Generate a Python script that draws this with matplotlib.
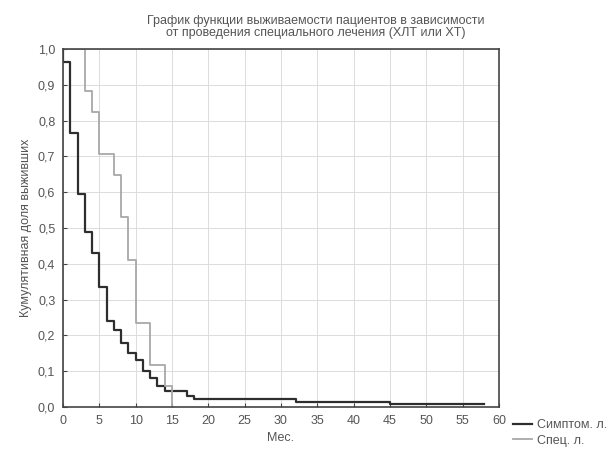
import matplotlib.pyplot as plt
from matplotlib.ticker import FuncFormatter

# Симптоматическое лечение (время, доля выживших после события)
t_sympt = [0, 0, 1, 2, 3, 4, 5, 6, 7, 8, 9, 10, 11, 12, 13, 14, 17, 18, 32, 45, 58]
s_sympt = [1.0, 0.963, 0.766, 0.596, 0.49, 0.43, 0.335, 0.24, 0.215, 0.18, 0.15,
           0.13, 0.10, 0.08, 0.06, 0.045, 0.03, 0.021, 0.013, 0.007, 0.007]

# Специальное лечение
t_spec = [0, 3, 4, 5, 7, 8, 9, 10, 12, 14, 15]
s_spec = [1.0, 0.882, 0.823, 0.706, 0.647, 0.53, 0.41, 0.235, 0.118, 0.059, 0.0]

labels = ['Симптом. л.', 'Спец. л.']
title = ('График функции выживаемости пациентов в зависимости\n'
         'от проведения специального лечения (ХЛТ или ХТ)')

plt.rcParams['font.family'] = ['Liberation Sans', 'DejaVu Sans']

fig = plt.figure(figsize=(6.16, 4.5), dpi=100)
ax = fig.add_axes([63 / 616, 1 - 407 / 450, 436 / 616, 358 / 450])

ax.step(t_sympt, s_sympt, where='post', color='#2e2e2e', lw=1.6, label=labels[0])
ax.step(t_spec, s_spec, where='post', color='#a8a8a8', lw=1.3, label=labels[1])

ax.set_xlim(0, 60)
ax.set_ylim(0, 1.0)
ax.set_xticks(range(0, 61, 5))
ax.set_yticks([i / 10 for i in range(11)])
ax.yaxis.set_major_formatter(FuncFormatter(lambda v, p: f'{v:.1f}'.replace('.', ',')))

ax.grid(True, color='#dcdcdc', lw=0.7)
ax.set_axisbelow(True)
for sp in ax.spines.values():
    sp.set_color('#444444')
    sp.set_linewidth(1.2)
ax.tick_params(direction='in', length=3, color='#444444', labelcolor='#555555',
               labelsize=9, pad=5.5)

ax.set_xlabel('Мес.', fontsize=9, color='#555555', labelpad=4)
ax.set_ylabel('Кумулятивная доля выживших', fontsize=9, color='#555555', labelpad=4)

fig.text(316 / 616, 1 - 27 / 450, title, ha='center', va='center',
         fontsize=9, color='#555555', linespacing=1.05)

fig.legend(loc='center left', bbox_to_anchor=(502 / 616, 1 - 433 / 450),
           frameon=False, fontsize=9, handlelength=1.5, handletextpad=0.4,
           labelspacing=0.25, labelcolor='#555555')

fig.savefig('out.png', dpi=100, facecolor='white')
